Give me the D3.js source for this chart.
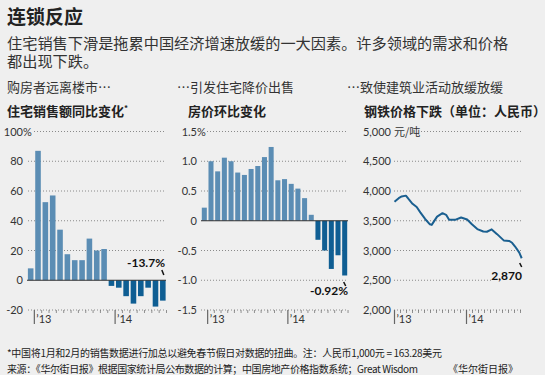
<!DOCTYPE html>
<html>
<head>
<meta charset="utf-8">
<script src="https://cdn.jsdelivr.net/npm/d3@7/dist/d3.min.js"></script>
<style>
  body { margin: 0; background: #efefef; }
  svg { display: block; }
  text { font-family: "Noto Sans CJK SC", sans-serif; fill: #222; }
  .num { font-family: Lato, "Noto Sans", sans-serif; font-size: 11px; fill: #333; }
</style>
</head>
<body>
<div id="app"></div>
<script>
// sales yoy %, first bar then Feb 2013 (Jan+Feb) ... Aug 2014
var salesValues = [8, 87, 52.5, 57, 34, 17.5, 13.5, 13.5, 28, 20, 21, -3.8, -5, -10.7, -15.7, -10.7, -5, -17.7, -13.7];
var salesTicks = [-20, 0, 20, 40, 60, 80, 100];
var salesTickLabels = ['-20', '0', '20', '40', '60', '80', '100'];

// home prices month on month %, Dec 2012 .. Sep 2014
var priceValues = [0.22, 1.0, 0.83, 1.06, 1.0, 0.81, 0.77, 0.87, 0.92, 1.07, 1.24, 0.68, 0.70,
                   0.62, 0.54, 0.38, 0.10, -0.32, -0.50, -0.81, -0.58, -0.92];
var priceTicks = [-1.5, -1.0, -0.5, 0, 0.5, 1.0, 1.5];
var priceTickLabels = ['-1.5', '-1.0', '-0.5', '0', '0.5', '1.0', '1.5'];

// steel price, months since Jan 2013
var steelMonths = [0, 0.7, 1.2, 1.9, 2.3, 3.0, 3.7, 4.3, 5.1, 5.9, 6.2, 7.1, 8.0, 8.6, 9.1, 10.1, 11.1,
                   12.1, 12.9, 13.8, 14.8, 15.4, 16.2, 17.1, 18.2, 19.1, 19.6, 20.1, 20.8, 21.2];
var steelPrices = [3820, 3880, 3908, 3922, 3870, 3785, 3730, 3640, 3530, 3440, 3430, 3570, 3627, 3600, 3515, 3515, 3555,
                   3520, 3440, 3360, 3320, 3315, 3355, 3275, 3170, 3160, 3130, 3067, 2965, 2870];
var steelTicks = [2000, 2500, 3000, 3500, 4000, 4500, 5000];

var lightBlue = '#5b8db4', darkBlue = '#0f5e93';
var plotTop = 131.5, plotBottom = 310;

var svg = d3.select('#app').append('svg').attr('width', 545).attr('height', 375);

// header texts
svg.append('text').attr('x', 7).attr('y', 24).style('font-size', '19px').style('font-weight', 'bold')
    .text('连锁反应');
svg.append('text').attr('x', 7).attr('y', 49).style('font-size', '15.2px').style('fill', '#333')
    .text('住宅销售下滑是拖累中国经济增速放缓的一大因素。许多领域的需求和价格');
svg.append('text').attr('x', 7).attr('y', 67).style('font-size', '15.2px').style('fill', '#333')
    .text('都出现下跌。');

var heads = [
    {x: 7, a: '购房者远离楼市…', b: '住宅销售额同比变化'},
    {x: 177, a: '…引发住宅降价出售', b: '房价环比变化'},
    {x: 347, a: '…致使建筑业活动放缓放缓', b: '钢铁价格下跌（单位：人民币）'}
];
heads.forEach(function(h, i) {
    svg.append('text').attr('x', h.x).attr('y', 92).style('font-size', '13px').style('fill', '#333').text(h.a);
    var t = svg.append('text').attr('x', i == 0 ? 7 : h.x + (i == 1 ? 11 : 17)).attr('y', 116)
        .style('font-size', '13px').style('font-weight', 'bold').text(h.b);
    if (i == 0) t.append('tspan').attr('dy', -5).style('font-size', '8px').text('*');
});

// labels right aligned on labelX, the top one gets a unit hanging past it
function yAxis(y, ticks, labels, labelX, unit) {
    ticks.forEach(function(v, i) {
        svg.append('text').attr('class', 'num').attr('x', labelX).attr('y', y(v) + 4)
            .attr('text-anchor', 'end').text(labels[i]);
    });
    if (unit) {
        svg.append('text').attr('class', 'num').attr('x', labelX).attr('y', y(ticks[ticks.length - 1]) + 4)
            .text(unit);
    }
}

function grid(y, v, x1, x2) {
    svg.append('line').attr('x1', x1).attr('x2', x2).attr('y1', y(v)).attr('y2', y(v))
        .attr('stroke', '#8a8a8a').attr('stroke-width', 1).attr('stroke-dasharray', '1,2');
}

function monthTicks(xs, majors, labels) {
    xs.forEach(function(x, i) {
        var major = majors.indexOf(i);
        svg.append('line').attr('x1', x).attr('x2', x).attr('y1', plotBottom)
            .attr('y2', major >= 0 ? plotBottom + 14 : plotBottom + 3)
            .attr('stroke', '#666').attr('stroke-width', major >= 0 ? 1.2 : 0.7);
        if (major >= 0) {
            svg.append('text').attr('class', 'num').attr('x', x + 2).attr('y', plotBottom + 13).text(labels[major]);
        }
    });
}

function pointer(x, y1, y2) {
    svg.append('line').attr('x1', x - 1).attr('x2', x + 1).attr('y1', y1).attr('y2', y2)
        .attr('stroke', '#111').attr('stroke-width', 1.5);
}

function bars(values, x, y) {
    svg.append('g').selectAll('rect').data(values).enter().append('rect')
        .attr('x', function(d, i) { return x(i); })
        .attr('width', x.bandwidth())
        .attr('y', function(d) { return y(Math.max(0, d)); })
        .attr('height', function(d) { return Math.abs(y(d) - y(0)); })
        .attr('fill', function(d) { return d < 0 ? darkBlue : lightBlue; });
}

// ---------- chart 1: sales ----------
var y1 = d3.scaleLinear().domain([-20, 100]).range([plotBottom, plotTop]);
var x1 = d3.scaleBand().domain(d3.range(salesValues.length)).range([27, 166.5]).paddingInner(0.24).paddingOuter(0.12);
yAxis(y1, salesTicks, salesTickLabels, 23, '%');
salesTicks.forEach(function(v) { if (v != 0) grid(y1, v, v == 100 ? 34 : 28, 166); });
bars(salesValues, x1, y1);
svg.append('line').attr('x1', 27).attr('x2', 166).attr('y1', y1(0)).attr('y2', y1(0)).attr('stroke', '#333');
var step1 = x1.step();
monthTicks(salesValues.map(function(d, i) { return x1(i) + x1.bandwidth() + (step1 - x1.bandwidth()) / 2; }),
    [0, 11], ['’13', '’14']);
svg.append('text').attr('x', 165).attr('y', 267).attr('text-anchor', 'end').attr('class', 'num')
    .style('font-weight', 'bold').style('font-size', '12px').style('fill', '#111').text('-13.7%');
pointer(x1(18) + x1.bandwidth() / 2, 270, 275);

// ---------- chart 2: home prices ----------
var y2 = d3.scaleLinear().domain([-1.5, 1.5]).range([plotBottom, plotTop]);
var x2 = d3.scaleBand().domain(d3.range(priceValues.length)).range([201, 348]).paddingInner(0.25).paddingOuter(0.12);
yAxis(y2, priceTicks, priceTickLabels, 197, '%');
priceTicks.forEach(function(v) { if (v != 0) grid(y2, v, v == 1.5 ? 207 : 201, 348); });
bars(priceValues, x2, y2);
svg.append('line').attr('x1', 201).attr('x2', 348).attr('y1', y2(0)).attr('y2', y2(0)).attr('stroke', '#333');
var step2 = x2.step();
monthTicks(priceValues.map(function(d, i) { return x2(i) + x2.bandwidth() + (step2 - x2.bandwidth()) / 2; }),
    [0, 12], ['’13', '’14']);
svg.append('text').attr('x', 348).attr('y', 295).attr('text-anchor', 'end').attr('class', 'num')
    .style('font-weight', 'bold').style('font-size', '12px').style('fill', '#111').text('-0.92%');
pointer(x2(21) + x2.bandwidth() / 2, 282, 286);

// ---------- chart 3: steel ----------
var y3 = d3.scaleLinear().domain([2000, 5000]).range([plotBottom, plotTop]);
var x3 = d3.scaleLinear().domain([0, 12]).range([394.5, 466.5]);
yAxis(y3, steelTicks, steelTicks.map(d3.format(',')), 391);
svg.append('text').attr('x', 394).attr('y', y3(5000) + 4).style('font-size', '11px').style('fill', '#333').text('元/吨');
steelTicks.forEach(function(v) {
    grid(y3, v, v == 5000 ? 421 : 394, v == 2500 ? 492 : 521);
});
svg.append('path')
    .datum(steelMonths.map(function(m, i) { return [m, steelPrices[i]]; }))
    .attr('fill', 'none').attr('stroke', '#1a5f90').attr('stroke-width', 2).attr('stroke-linejoin', 'round')
    .attr('d', d3.line().x(function(d) { return x3(d[0]); }).y(function(d) { return y3(d[1]); }));
monthTicks(d3.range(0, 22).map(function(m) { return x3(m); }), [0, 12], ['’13', '’14']);
svg.append('text').attr('x', 522).attr('y', 280).attr('text-anchor', 'end').attr('class', 'num')
    .style('font-weight', 'bold').style('font-size', '12px').style('fill', '#111').text('2,870');
pointer(x3(21.2) - 1, 263, 267);

// ---------- footer ----------
svg.append('text').attr('x', 7).attr('y', 357).style('font-size', '10px')
    .attr('textLength', 435).attr('lengthAdjust', 'spacing')
    .text('*中国将1月和2月的销售数据进行加总以避免春节假日对数据的扭曲。注：人民币1,000元 = 163.28美元');
svg.append('text').attr('x', 7).attr('y', 373).style('font-size', '10px')
    .attr('textLength', 411).attr('lengthAdjust', 'spacing')
    .text('来源：《华尔街日报》根据国家统计局公布数据的计算；中国房地产价格指数系统；Great Wisdom');
svg.append('text').attr('x', 518).attr('y', 373).attr('text-anchor', 'end').style('font-size', '10px')
    .text('《华尔街日报》');
</script>
</body>
</html>
